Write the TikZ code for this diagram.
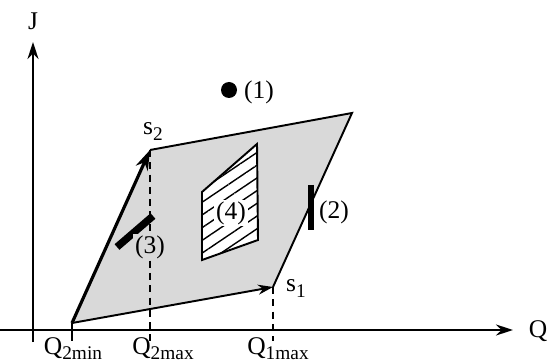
\documentclass[tikz,border=0pt]{standalone}
\usepackage{fontspec}
\setmainfont{Liberation Serif}
\usetikzlibrary{arrows.meta,patterns.meta}
\newcommand{\lowtxt}[1]{\raisebox{-0.45ex}{\fontsize{11}{12}\selectfont #1}}

\begin{document}
\begin{tikzpicture}[x=0.02cm, y=-0.02cm, >={Stealth[length=3.4mm,width=2.2mm]},
  lbl/.style={font=\fontsize{14.5}{16}\selectfont, inner sep=1pt},
  edge/.style={line width=1.1pt},
  bar/.style={line width=3.8pt},
  dsh/.style={line width=0.9pt, dash pattern=on 4pt off 3pt}]
  \useasboundingbox (0,0) rectangle (547,364);
  % axes
  \coordinate (xl) at (0,330);
  \coordinate (xr) at (513,330);
  \coordinate (yb) at (33,342);
  \coordinate (yt) at (33,42);
  \draw[edge,->] (xl) -- (xr);
  \draw[edge,->] (yb) -- (yt);
  \node[lbl] (Q) at (538,331) {Q};
  \node[lbl] (J) at (33,21) {J};
  % parallelogram
  \coordinate (a) at (72,323);
  \coordinate (s1) at (273,287);
  \coordinate (s2) at (150,150);
  \coordinate (c) at (352,113);
  \fill[gray!30] (a) -- (s1) -- (c) -- (s2) -- cycle;
  \draw[edge] (s2) -- (c) -- (s1);
  \draw[line width=1.8pt,->,>={Stealth[length=4mm,width=2.6mm]}] (a) -- (s2);
  \draw[edge,->,>={Stealth[length=3mm,width=2mm]}] (a) -- (s1);
  \node[lbl, anchor=base west] (ls2) at (141,135) {s\lowtxt{2}};
  \node[lbl, anchor=base west] (ls1) at (284,292) {s\lowtxt{1}};
  % ticks
  \coordinate (t1) at (72,341);
  \coordinate (t2) at (150,341);
  \coordinate (t3) at (273,341);
  \draw[edge] (a) -- (t1);
  \draw[dsh] (s2) -- (t2);
  \draw[dsh] (s1) -- (t3);
  \node[lbl, anchor=base] (q2min) at (73,354) {Q\lowtxt{2min}};
  \node[lbl, anchor=base] (q2max) at (163,354) {Q\lowtxt{2max}};
  \node[lbl, anchor=base] (q1max) at (278,354) {Q\lowtxt{1max}};
  % (1)
  \node[circle, fill, minimum size=0.32cm, inner sep=0pt] (p1) at (229,90) {};
  \node[lbl] (l1) at (259,92) {(1)};
  % (2)
  \coordinate (b2t) at (311,185);
  \coordinate (b2b) at (311,230);
  \draw[bar] (b2t) -- (b2b);
  \node[lbl] (l2) at (334,212) {(2)};
  % (3)
  \coordinate (b3a) at (117,247);
  \coordinate (b3b) at (153,216);
  \draw[bar, line width=4.2pt] (b3a) -- (b3b);
  \node[lbl, fill=gray!30] (l3) at (150,247) {(3)};
  % (4)
  \coordinate (h1) at (257,144);
  \coordinate (h2) at (202,192);
  \coordinate (h3) at (202,260);
  \coordinate (h4) at (258,240);
  \fill[white] (h1) -- (h2) -- (h3) -- (h4) -- cycle;
  \fill[pattern={Lines[angle=34, distance=6pt, line width=0.8pt]}] (h1) -- (h2) -- (h3) -- (h4) -- cycle;
  \draw[edge] (h1) -- (h2) -- (h3) -- (h4) -- cycle;
  \node[lbl, fill=white] (l4) at (231,213) {(4)};
\end{tikzpicture}
\end{document}
